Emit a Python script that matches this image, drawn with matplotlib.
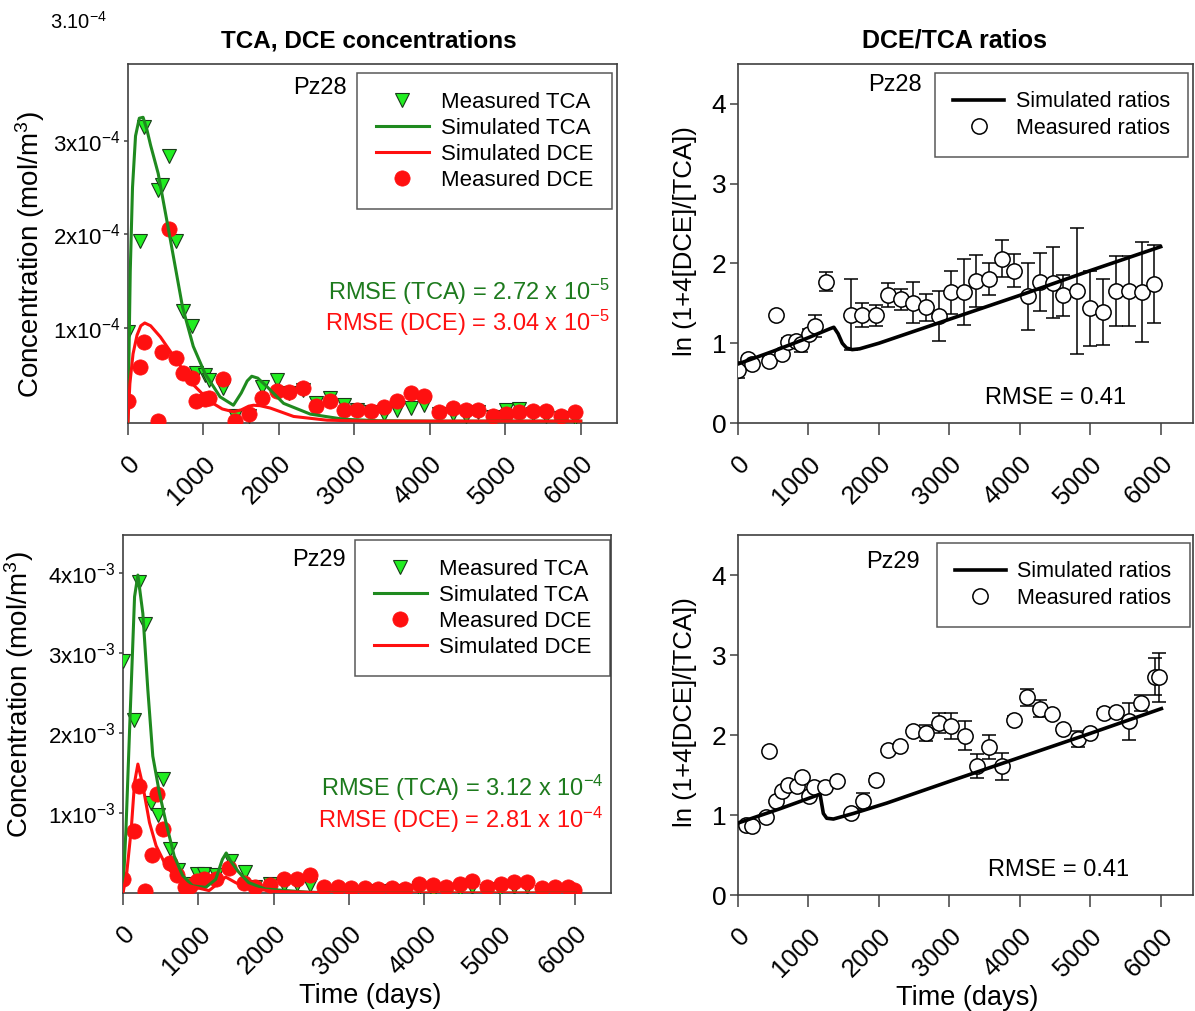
import matplotlib
matplotlib.use("Agg")
import matplotlib.pyplot as plt
from matplotlib.ticker import FixedLocator, FixedFormatter

plt.rcParams['font.family'] = ['Liberation Sans', 'DejaVu Sans']
plt.rcParams['mathtext.default'] = 'regular'

# ---------------- Pz28 concentrations ----------------
pz28_t = [0, 155, 213, 400, 452, 545, 634, 723, 843, 900, 1020, 1078, 1255, 1420,
          1610, 1775, 1973, 2137, 2315, 2492, 2674, 2860, 3038, 3215, 3392, 3570,
          3747, 3925, 4124, 4302, 4479, 4634, 4834, 5011, 5188, 5366, 5543, 5743, 5920]
pz28_tca = [0.955e-4, 1.93e-4, 3.15e-4, 2.47e-4, 2.53e-4, 2.84e-4, 1.93e-4, 1.18e-4,
            1.02e-4, 0.51e-4, 0.49e-4, 0.44e-4, 0.35e-4, 0.05e-4, 0.06e-4, 0.37e-4,
            0.44e-4, 0.30e-4, 0.33e-4, 0.19e-4, 0.25e-4, 0.17e-4, 0.12e-4, 0.10e-4,
            0.08e-4, 0.12e-4, 0.14e-4, 0.17e-4, 0.08e-4, 0.08e-4, 0.05e-4, 0.10e-4,
            0.04e-4, 0.12e-4, 0.13e-4, 0.08e-4, 0.06e-4, 0.03e-4, 0.03e-4]
pz28_dce = [0.22e-4, 0.58e-4, 0.85e-4, 0.0, 0.74e-4, 2.06e-4, 0.68e-4, 0.51e-4,
            0.46e-4, 0.22e-4, 0.24e-4, 0.25e-4, 0.45e-4, 0.0, 0.08e-4, 0.25e-4,
            0.32e-4, 0.31e-4, 0.35e-4, 0.16e-4, 0.21e-4, 0.12e-4, 0.12e-4, 0.11e-4,
            0.15e-4, 0.22e-4, 0.30e-4, 0.27e-4, 0.10e-4, 0.14e-4, 0.12e-4, 0.12e-4,
            0.05e-4, 0.08e-4, 0.10e-4, 0.11e-4, 0.11e-4, 0.05e-4, 0.10e-4]

pz28_sim_tca_t = [0, 30, 60, 100, 150, 200, 250, 300, 400, 555, 723, 865, 1020, 1220,
                  1397, 1500, 1580, 1640, 1720, 1840, 2062, 2417, 2860, 3300, 4000, 5000, 6000]
pz28_sim_tca = [0.0, 1.6e-4, 2.5e-4, 3.05e-4, 3.24e-4, 3.25e-4, 3.12e-4, 2.95e-4,
                2.65e-4, 1.97e-4, 1.22e-4, 0.80e-4, 0.51e-4, 0.26e-4, 0.17e-4, 0.30e-4,
                0.43e-4, 0.48e-4, 0.46e-4, 0.37e-4, 0.19e-4, 0.075e-4, 0.02e-4,
                0.005e-4, 0.0, 0.0, 0.0]
pz28_sim_dce_t = [0, 25, 67, 120, 170, 222, 300, 430, 643, 865, 1087, 1250, 1397,
                  1500, 1600, 1663, 1750, 1885, 2195, 2638, 3200, 4000, 5000, 6000]
pz28_sim_dce = [0.0, 0.40e-4, 0.72e-4, 0.92e-4, 1.02e-4, 1.05e-4, 1.02e-4, 0.90e-4,
                0.65e-4, 0.39e-4, 0.21e-4, 0.13e-4, 0.10e-4, 0.12e-4, 0.16e-4,
                0.17e-4, 0.165e-4, 0.14e-4, 0.05e-4, 0.01e-4, 0.0, 0.0, 0.0, 0.0]

# ---------------- Pz29 concentrations ----------------
pz29_t = [0, 141, 207, 295, 374, 462, 536, 629, 734, 857, 989, 1077, 1231, 1429,
          1626, 1758, 1956, 2132, 2308, 2484, 2673, 2857, 3033, 3209, 3385, 3574,
          3749, 3934, 4110, 4286, 4470, 4629, 4835, 5011, 5196, 5371, 5560, 5736,
          5912, 5978]
pz29_tca = [2.90e-3, 2.16e-3, 3.88e-3, 3.36e-3, 1.12e-3, 0.97e-3, 1.42e-3, 0.55e-3,
            0.29e-3, 0.11e-3, 0.24e-3, 0.24e-3, 0.22e-3, 0.40e-3, 0.26e-3, 0.07e-3,
            0.11e-3, 0.10e-3, 0.11e-3, 0.10e-3, 0.01e-3, 0.01e-3, 0.0, 0.01e-3,
            0.03e-3, 0.03e-3, 0.03e-3, 0.06e-3, 0.03e-3, 0.03e-3, 0.05e-3, 0.07e-3,
            0.02e-3, 0.05e-3, 0.07e-3, 0.07e-3, 0.01e-3, 0.03e-3, 0.0, 0.0]
pz29_dce_t = [0, 141, 211, 295, 382, 453, 536, 624, 716, 826, 892, 989, 1077, 1231,
              1407, 1604, 1758, 1956, 2132, 2308, 2484, 2673, 2857, 3033, 3209, 3385,
              3574, 3749, 3934, 4110, 4286, 4470, 4629, 4835, 5020, 5196, 5371, 5560,
              5736, 5912, 5987]
pz29_dce = [0.17e-3, 0.77e-3, 1.34e-3, 0.02e-3, 0.47e-3, 1.24e-3, 0.80e-3, 0.38e-3,
            0.22e-3, 0.07e-3, 0.09e-3, 0.15e-3, 0.18e-3, 0.17e-3, 0.31e-3, 0.12e-3,
            0.07e-3, 0.10e-3, 0.17e-3, 0.17e-3, 0.22e-3, 0.08e-3, 0.07e-3, 0.06e-3,
            0.06e-3, 0.05e-3, 0.06e-3, 0.05e-3, 0.11e-3, 0.10e-3, 0.08e-3, 0.11e-3,
            0.15e-3, 0.07e-3, 0.11e-3, 0.14e-3, 0.14e-3, 0.06e-3, 0.08e-3, 0.07e-3,
            0.04e-3]

pz29_sim_tca_t = [0, 40, 88, 154, 198, 264, 330, 396, 484, 571, 681, 791, 923, 1099,
                  1231, 1320, 1371, 1429, 1538, 1670, 1890, 2462, 3000, 4000, 5000, 6000]
pz29_sim_tca = [0.0, 0.8e-3, 2.04e-3, 3.70e-3, 3.97e-3, 3.49e-3, 2.54e-3, 1.71e-3,
                1.25e-3, 0.88e-3, 0.46e-3, 0.22e-3, 0.09e-3, 0.07e-3, 0.17e-3,
                0.42e-3, 0.50e-3, 0.40e-3, 0.26e-3, 0.13e-3, 0.05e-3, 0.01e-3, 0.0,
                0.0, 0.0, 0.0]
pz29_sim_dce_t = [0, 50, 110, 154, 198, 264, 352, 440, 571, 703, 879, 1143, 1290,
                  1363, 1495, 1670, 2022, 2800, 4000, 5000, 6000]
pz29_sim_dce = [0.0, 0.25e-3, 0.80e-3, 1.38e-3, 1.61e-3, 1.34e-3, 0.88e-3, 0.59e-3,
                0.34e-3, 0.20e-3, 0.09e-3, 0.03e-3, 0.14e-3, 0.20e-3, 0.13e-3,
                0.06e-3, 0.02e-3, 0.0, 0.0, 0.0, 0.0]

# ---------------- Pz28 ratios ----------------
r28_t = [0, 142, 199, 440, 544, 629, 709, 818, 898, 1007, 1087, 1243, 1598, 1764,
         1953, 2128, 2307, 2482, 2671, 2846, 3017, 3206, 3381, 3560, 3745, 3924,
         4113, 4288, 4468, 4619, 4813, 5002, 5187, 5366, 5546, 5730, 5901]
r28_val = [0.67, 0.80, 0.74, 0.78, 1.36, 0.87, 1.01, 1.03, 0.99, 1.12, 1.22, 1.77,
           1.36, 1.35, 1.35, 1.60, 1.55, 1.51, 1.45, 1.34, 1.64, 1.64, 1.78, 1.81,
           2.06, 1.91, 1.59, 1.77, 1.76, 1.60, 1.66, 1.44, 1.39, 1.65, 1.65, 1.64, 1.74]
r28_err = [0.10, 0.04, 0.03, 0.04, 0.0, 0.05, 0.05, 0.05, 0.10, 0.06, 0.14, 0.12,
           0.45, 0.15, 0.13, 0.15, 0.13, 0.26, 0.17, 0.31, 0.27, 0.41, 0.33, 0.20,
           0.23, 0.21, 0.42, 0.36, 0.45, 0.26, 0.79, 0.47, 0.41, 0.44, 0.44, 0.63, 0.49]
r28_sim_t = [0, 500, 1000, 1300, 1360, 1420, 1480, 1540, 1620, 1726, 2000, 3000,
             4000, 5000, 6000]
r28_sim = [0.74, 0.90, 1.07, 1.18, 1.20, 1.12, 1.00, 0.94, 0.92, 0.93, 1.00, 1.30,
           1.60, 1.91, 2.21]

# ---------------- Pz29 ratios ----------------
r29_t = [119, 200, 390, 442, 537, 618, 713, 831, 903, 1012, 1078, 1235, 1411, 1606,
         1767, 1957, 2128, 2304, 2485, 2670, 2850, 3017, 3221, 3387, 3563, 3753,
         3919, 4109, 4290, 4456, 4608, 4822, 5002, 5192, 5368, 5544, 5724, 5914, 5976]
r29_val = [0.88, 0.86, 0.98, 1.80, 1.17, 1.30, 1.38, 1.36, 1.47, 1.24, 1.35, 1.35,
           1.42, 1.03, 1.17, 1.44, 1.81, 1.86, 2.05, 2.03, 2.15, 2.11, 1.99, 1.61,
           1.85, 1.61, 2.19, 2.47, 2.33, 2.26, 2.07, 1.95, 2.02, 2.28, 2.29, 2.17,
           2.40, 2.73, 2.72]
r29_err = [0.03, 0.03, 0.03, 0.04, 0.03, 0.03, 0.03, 0.03, 0.04, 0.04, 0.03, 0.03,
           0.04, 0.03, 0.10, 0.05, 0.04, 0.04, 0.04, 0.10, 0.12, 0.16, 0.18, 0.15,
           0.15, 0.17, 0.05, 0.11, 0.11, 0.05, 0.04, 0.10, 0.04, 0.04, 0.04, 0.23,
           0.10, 0.23, 0.31]
r29_sim_t = [0, 600, 1164, 1211, 1259, 1354, 1639, 2114, 3000, 4000, 5000, 6010]
r29_sim = [0.90, 1.08, 1.26, 1.02, 0.96, 0.95, 1.02, 1.15, 1.42, 1.72, 2.02, 2.33]

x_ticks = [0, 1000, 2000, 3000, 4000, 5000, 6000]
x_tick_labels = ['0', '1000', '2000', '3000', '4000', '5000', '6000']
pz28_y_ticks = [1e-4, 2e-4, 3e-4]
pz28_y_labels = [r'$1x10^{-4}$', r'$2x10^{-4}$', r'$3x10^{-4}$']
pz29_y_ticks = [1e-3, 2e-3, 3e-3, 4e-3]
pz29_y_labels = [r'$1x10^{-3}$', r'$2x10^{-3}$', r'$3x10^{-3}$', r'$4x10^{-3}$']
ratio_y_ticks = [0, 1, 2, 3, 4]

GREEN_FILL = '#22ee22'
GREEN_LINE = '#1f8a1f'
GREEN_TEXT = '#1d7a1d'
RED = '#ff1010'
SPINE = '#404040'

fig = plt.figure(figsize=(11.95, 10.11), dpi=100)
ax_tl = fig.add_axes([0.1071, 0.5816, 0.4092, 0.3551])
ax_tr = fig.add_axes([0.6176, 0.5816, 0.3808, 0.3551])
ax_bl = fig.add_axes([0.1029, 0.1167, 0.4084, 0.3541])
ax_br = fig.add_axes([0.6176, 0.1147, 0.3808, 0.3561])


def style_axes(ax, ylen, ylab_size):
    for s in ax.spines.values():
        s.set_color(SPINE)
        s.set_linewidth(1.2)
    ax.xaxis.set_major_locator(FixedLocator(x_ticks))
    ax.xaxis.set_major_formatter(FixedFormatter(x_tick_labels))
    ax.tick_params(axis='x', direction='out', length=8.5, width=1.1, color=SPINE,
                   labelsize=18.5, pad=12)
    ax.tick_params(axis='y', direction='out', length=ylen, width=1.1, color=SPINE,
                   labelsize=ylab_size, pad=2.5)
    for lab in ax.get_xticklabels():
        lab.set_rotation(45)
        lab.set_ha('right')
        lab.set_va('top')
        lab.set_rotation_mode('anchor')


def conc_panel(ax, t_tca, tca, t_dce, dce, st_t, st, sd_t, sd, yt, ylab, ylim,
               order):
    h = {}
    h['mt'], = ax.plot(t_tca, tca, linestyle='none', marker='v', ms=10,
                       mfc=GREEN_FILL, mec='#1a3a1a', mew=0.8, zorder=3)
    h['md'], = ax.plot(t_dce, dce, linestyle='none', marker='o', ms=11,
                       mfc=RED, mec=RED, mew=0.5, zorder=4)
    h['st'], = ax.plot(st_t, st, color=GREEN_LINE, lw=2.2, zorder=5)
    h['sd'], = ax.plot(sd_t, sd, color=RED, lw=2.2, zorder=5)
    ax.set_xlim(0, 6480)
    ax.set_ylim(*ylim)
    ax.yaxis.set_major_locator(FixedLocator(yt))
    ax.yaxis.set_major_formatter(FixedFormatter(ylab))
    style_axes(ax, 3, 16)
    names = {'mt': 'Measured TCA', 'st': 'Simulated TCA',
             'sd': 'Simulated DCE', 'md': 'Measured DCE'}
    return [h[k] for k in order], [names[k] for k in order]


def ratio_panel(ax, t, val, err, st, sv):
    ax.errorbar(t, val, yerr=err, fmt='none', ecolor='black', elinewidth=1.1,
                capsize=5, capthick=1.1, zorder=3)
    hm, = ax.plot(t, val, linestyle='none', marker='o', ms=11, mfc='white',
                  mec='black', mew=1.1, zorder=4)
    hs, = ax.plot(st, sv, color='black', lw=2.6, zorder=5)
    ax.set_xlim(0, 6460)
    ax.set_ylim(0, 4.5)
    ax.yaxis.set_major_locator(FixedLocator(ratio_y_ticks))
    style_axes(ax, 6, 19)
    return [hs, hm], ['Simulated ratios', 'Measured ratios']


def add_legend(ax, handles, labels, anchor, size, spacing):
    leg = ax.legend(handles, labels, loc='upper right', bbox_to_anchor=anchor,
                    borderaxespad=0, fontsize=size, frameon=True, fancybox=False,
                    handlelength=2.35, handletextpad=0.55, labelspacing=spacing,
                    borderpad=0.85, numpoints=1)
    leg.get_frame().set_edgecolor('#303030')
    leg.get_frame().set_linewidth(1.1)
    leg.set_zorder(10)
    return leg


# top-left
h, l = conc_panel(ax_tl, pz28_t, pz28_tca, pz28_t, pz28_dce,
                  pz28_sim_tca_t, pz28_sim_tca, pz28_sim_dce_t, pz28_sim_dce,
                  pz28_y_ticks, pz28_y_labels, (-0.02e-4, 3.82e-4),
                  ['mt', 'st', 'sd', 'md'])
add_legend(ax_tl, h, l, (0.990, 0.975), 16, 0.22)
ax_tl.text(0.393, 0.933, 'Pz28', transform=ax_tl.transAxes, fontsize=17,
           ha='center', va='center')
ax_tl.text(0.986, 0.365, r'RMSE (TCA) = 2.72 x 10$^{-5}$', transform=ax_tl.transAxes,
           fontsize=17, color=GREEN_TEXT, ha='right', va='center')
ax_tl.text(0.986, 0.279, r'RMSE (DCE) = 3.04 x 10$^{-5}$', transform=ax_tl.transAxes,
           fontsize=17, color=RED, ha='right', va='center')
ax_tl.set_ylabel(r'Concentration (mol/m$^{3}$)', fontsize=20)
ax_tl.yaxis.set_label_coords(-0.166, 0.468)
ax_tl.set_title('TCA, DCE concentrations', fontsize=17.5, fontweight='bold',
                pad=12, x=0.492)

# top-right
h, l = ratio_panel(ax_tr, r28_t, r28_val, r28_err, r28_sim_t, r28_sim)
add_legend(ax_tr, h, l, (0.989, 0.975), 15.5, 0.25)
ax_tr.text(0.345, 0.941, 'Pz28', transform=ax_tr.transAxes, fontsize=17,
           ha='center', va='center')
ax_tr.text(0.697, 0.07, 'RMSE = 0.41', transform=ax_tr.transAxes, fontsize=17,
           ha='center', va='center')
ax_tr.set_ylabel('ln (1+4[DCE]/[TCA])', fontsize=18.5)
ax_tr.yaxis.set_label_coords(-0.09, 0.507)
ax_tr.set_title('DCE/TCA ratios', fontsize=18, fontweight='bold', pad=12, x=0.475)

# bottom-left
h, l = conc_panel(ax_bl, pz29_t, pz29_tca, pz29_dce_t, pz29_dce,
                  pz29_sim_tca_t, pz29_sim_tca, pz29_sim_dce_t, pz29_sim_dce,
                  pz29_y_ticks, pz29_y_labels, (0, 4.47e-3),
                  ['mt', 'st', 'md', 'sd'])
add_legend(ax_bl, h, l, (0.998, 0.986), 16, 0.22)
ax_bl.text(0.402, 0.930, 'Pz29', transform=ax_bl.transAxes, fontsize=17,
           ha='center', va='center')
ax_bl.text(0.984, 0.293, r'RMSE (TCA) = 3.12 x 10$^{-4}$', transform=ax_bl.transAxes,
           fontsize=17, color=GREEN_TEXT, ha='right', va='center')
ax_bl.text(0.984, 0.204, r'RMSE (DCE) = 2.81 x 10$^{-4}$', transform=ax_bl.transAxes,
           fontsize=17, color=RED, ha='right', va='center')
ax_bl.set_ylabel(r'Concentration (mol/m$^{3}$)', fontsize=20)
ax_bl.yaxis.set_label_coords(-0.178, 0.553)
ax_bl.set_xlabel('Time (days)', fontsize=19.5)
ax_bl.xaxis.set_label_coords(0.506, -0.25)

# bottom-right
h, l = ratio_panel(ax_br, r29_t, r29_val, r29_err, r29_sim_t, r29_sim)
add_legend(ax_br, h, l, (0.993, 0.978), 15.5, 0.25)
ax_br.text(0.341, 0.925, 'Pz29', transform=ax_br.transAxes, fontsize=17,
           ha='center', va='center')
ax_br.text(0.705, 0.07, 'RMSE = 0.41', transform=ax_br.transAxes, fontsize=17,
           ha='center', va='center')
ax_br.set_ylabel('ln (1+4[DCE]/[TCA])', fontsize=18.5)
ax_br.yaxis.set_label_coords(-0.09, 0.508)
ax_br.set_xlabel('Time (days)', fontsize=19.5)
ax_br.xaxis.set_label_coords(0.503, -0.25)

fig.text(0.042, 0.978, r'3.10$^{-4}$', fontsize=14.5, ha='left', va='center')

fig.savefig('out.png', dpi=100, facecolor='white')
